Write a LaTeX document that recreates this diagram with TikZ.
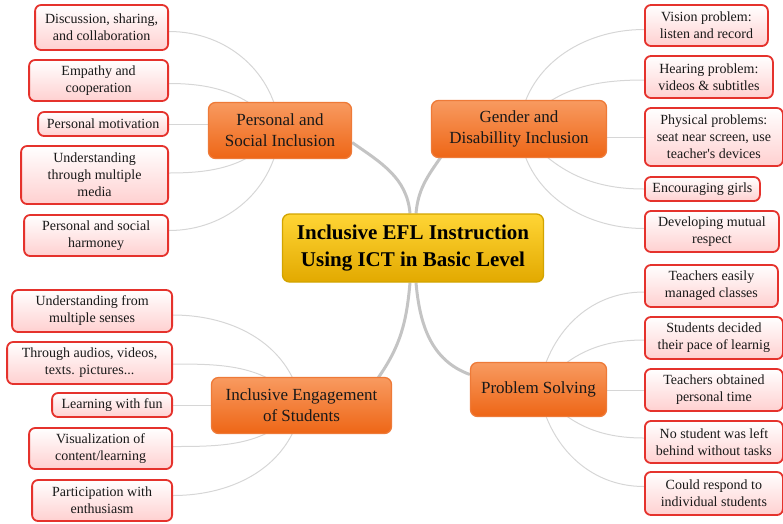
\documentclass[tikz,border=0pt]{standalone}
\usepackage{fontspec}
\setmainfont{Liberation Serif}
\usetikzlibrary{backgrounds}
\definecolor{leafred}{HTML}{E5322C}
\definecolor{leafpink}{HTML}{FFD0D0}
\definecolor{cattop}{HTML}{F89A60}
\definecolor{catbot}{HTML}{EE6616}
\definecolor{catborder}{HTML}{EE7A38}
\definecolor{ctrtop}{HTML}{FFD535}
\definecolor{ctrbot}{HTML}{E2A900}
\definecolor{ctrborder}{HTML}{D2A400}
\definecolor{mainline}{HTML}{C4C4C4}
\definecolor{thinline}{HTML}{D6D6D6}
\begin{document}
\begin{tikzpicture}[x=1pt,y=1pt,
  leaf/.style={draw=leafred, line width=1.8pt, rounded corners=6pt, top color=white, bottom color=leafpink, align=center, font=\fontsize{14}{17}\selectfont, inner sep=0pt, text=black!90},
  cat/.style={draw=catborder, line width=1.3pt, rounded corners=7pt, top color=cattop, bottom color=catbot, align=center, font=\fontsize{17}{21}\selectfont, inner sep=0pt, text=black!90},
  ctr/.style={draw=ctrborder, line width=1.3pt, rounded corners=7pt, top color=ctrtop, bottom color=ctrbot, align=center, font=\fontsize{21}{27}\selectfont\bfseries, inner sep=0pt, text=black},
  bigline/.style={draw=mainline, line width=3pt},
  smallline/.style={draw=thinline, line width=1pt}
]
\useasboundingbox (0,0) rectangle (783,-523);

% center
\node[ctr, minimum width=261, minimum height=68] (c) at (413,-248) {Inclusive EFL Instruction\\Using ICT in Basic Level};

% categories
\node[cat, minimum width=143, minimum height=56] (psi) at (280,-130.5) {Personal and\\Social Inclusion};
\node[cat, minimum width=175, minimum height=57] (gdi) at (519,-129) {Gender and\\Disabillity Inclusion};
\node[cat, minimum width=180, minimum height=56] (ies) at (301.5,-405.5) {Inclusive Engagement\\of Students};
\node[cat, minimum width=136, minimum height=54] (ps) at (538.5,-389.5) {Problem Solving};

% left top leaves
\node[leaf, anchor=east, minimum width=133, minimum height=45] (d1) at (169,-27.5) {Discussion, sharing,\\and collaboration};
\node[leaf, anchor=east, minimum width=139, minimum height=41] (d2) at (169,-80.5) {Empathy and\\cooperation};
\node[leaf, anchor=east, minimum width=130, minimum height=24] (d3) at (169,-124) {Personal motivation};
\node[leaf, anchor=east, minimum width=147, minimum height=58] (d4) at (169,-175) {Understanding\\through multiple\\media};
\node[leaf, anchor=east, minimum width=144, minimum height=41] (d5) at (169,-235.5) {Personal and social\\harmoney};

% right top leaves
\node[leaf, anchor=west, minimum width=123, minimum height=41] (g1) at (644,-25.5) {Vision problem:\\listen and record};
\node[leaf, anchor=west, minimum width=128, minimum height=42] (g2) at (644,-77) {Hearing problem:\\videos \& subtitles};
\node[leaf, anchor=west, minimum width=138, minimum height=58] (g3) at (644,-137) {Physical problems:\\seat near screen, use\\teacher\textquotesingle s devices};
\node[leaf, anchor=west, minimum width=115, minimum height=24] (g4) at (644,-189) {Encouraging girls};
\node[leaf, anchor=west, minimum width=134, minimum height=41] (g5) at (644,-231.5) {Developing mutual\\respect};

% bottom left leaves
\node[leaf, anchor=east, minimum width=160, minimum height=42] (e1) at (173,-311) {Understanding from\\multiple senses};
\node[leaf, anchor=east, minimum width=165, minimum height=42] (e2) at (173,-363) {Through audios, videos,\\texts. pictures...};
\node[leaf, anchor=east, minimum width=120, minimum height=24] (e3) at (173,-405) {Learning with fun};
\node[leaf, anchor=east, minimum width=143, minimum height=41] (e4) at (173,-448.5) {Visualization of\\content/learning};
\node[leaf, anchor=east, minimum width=140, minimum height=41] (e5) at (173,-500.5) {Participation with\\enthusiasm};

% bottom right leaves
\node[leaf, anchor=west, minimum width=133, minimum height=42] (p1) at (644,-286) {Teachers easily\\managed classes};
\node[leaf, anchor=west, minimum width=138, minimum height=42] (p2) at (644,-338) {Students decided\\their pace of learnig};
\node[leaf, anchor=west, minimum width=138, minimum height=42] (p3) at (644,-390) {Teachers obtained\\personal time};
\node[leaf, anchor=west, minimum width=138, minimum height=42] (p4) at (644,-442) {No student was left\\behind without tasks};
\node[leaf, anchor=west, minimum width=138, minimum height=43] (p5) at (644,-493.5) {Could respond to\\individual students};

\begin{pgfonlayer}{background}
% main connectors
\draw[bigline] ([xshift=-3pt]c.north) to[out=95,in=-35] ([yshift=-12pt]psi.east);
\draw[bigline] ([xshift=3pt]c.north) to[out=85,in=235] ([xshift=10pt,yshift=1pt]gdi.south west);
\draw[bigline] ([xshift=-3pt]c.south) to[out=-95,in=55] ([xshift=-14pt,yshift=-1pt]ies.north east);
\draw[bigline] ([xshift=3pt]c.south) to[out=-85,in=160] ([yshift=15pt]ps.west);

% personal and social
\draw[smallline] (psi.center) to[out=95,in=0] ([yshift=-4pt]d1.east);
\draw[smallline] (psi.center) to[out=130,in=0] ([yshift=-3pt]d2.east);
\draw[smallline] (d3.east) -- (d3.east -| psi.center);
\draw[smallline] (psi.center) to[out=230,in=0] ([yshift=2pt]d4.east);
\draw[smallline] (psi.center) to[out=265,in=0] ([yshift=5pt]d5.east);

% gender
\draw[smallline] (gdi.center) to[out=85,in=180] ([yshift=-4pt]g1.west);
\draw[smallline] (gdi.center) to[out=50,in=180] ([yshift=-3pt]g2.west);
\draw[smallline] (g3.west) -- (g3.west -| gdi.center);
\draw[smallline] (gdi.center) to[out=-50,in=180] (g4.west);
\draw[smallline] (gdi.center) to[out=-85,in=180] ([yshift=3pt]g5.west);

% engagement
\draw[smallline] (ies.center) to[out=100,in=0] ([yshift=-4pt]e1.east);
\draw[smallline] (ies.center) to[out=130,in=0] ([yshift=-1pt]e2.east);
\draw[smallline] (e3.east) -- (e3.east -| ies.center);
\draw[smallline] (ies.center) to[out=230,in=0] ([yshift=2pt]e4.east);
\draw[smallline] (ies.center) to[out=260,in=0] ([yshift=5pt]e5.east);

% problem solving
\draw[smallline] (ps.center) to[out=80,in=180] ([yshift=-6pt]p1.west);
\draw[smallline] (ps.center) to[out=50,in=180] ([yshift=-2pt]p2.west);
\draw[smallline] (p3.west) -- (p3.west -| ps.center);
\draw[smallline] (ps.center) to[out=-50,in=180] ([yshift=4pt]p4.west);
\draw[smallline] (ps.center) to[out=-80,in=180] ([yshift=7pt]p5.west);
\end{pgfonlayer}
\end{tikzpicture}
\end{document}
